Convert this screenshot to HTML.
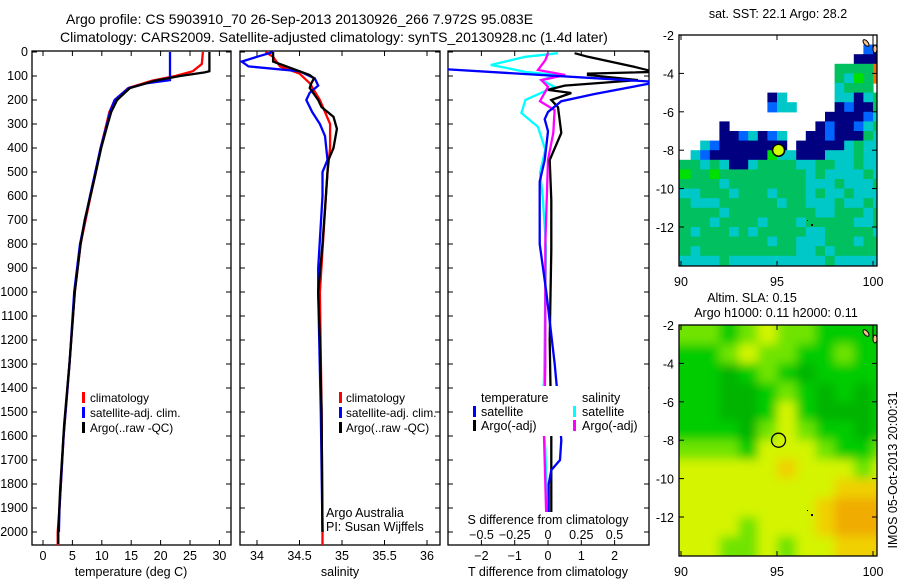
<!DOCTYPE html>
<html><head><meta charset="utf-8"><style>
html,body{margin:0;padding:0;background:#fff;width:900px;height:580px;overflow:hidden}
svg text{font-family:"Liberation Sans",sans-serif;font-size:12.5px;fill:#000}
svg text.leg{font-size:11.8px}
</style></head><body>
<svg id="s" width="900" height="580" viewBox="0 0 900 580" xmlns="http://www.w3.org/2000/svg">
<defs>
<clipPath id="c1"><rect x="32" y="51" width="199" height="494"/></clipPath>
<clipPath id="c2"><rect x="240" y="51" width="200" height="494"/></clipPath>
<clipPath id="c3"><rect x="448" y="51" width="201" height="494"/></clipPath>
<clipPath id="cm1"><rect x="679" y="35" width="198" height="231"/></clipPath>
<clipPath id="cm2"><rect x="679" y="325" width="198" height="231"/></clipPath>
<filter id="blur" x="-10%" y="-10%" width="120%" height="120%"><feGaussianBlur stdDeviation="5"/></filter>
</defs>
<text x="66" y="24" style="font-size:14px">Argo profile: CS 5903910_70 26-Sep-2013 20130926_266 7.972S 95.083E</text>
<text x="60" y="42" style="font-size:14px">Climatology: CARS2009. Satellite-adjusted climatology: synTS_20130928.nc (1.4d later)</text>
<g id="g1"></g>
<g id="g2"></g>
<g id="g3"></g>
<g id="m1"></g>
<g id="m2"></g>
<text transform="translate(897,470) rotate(-90)" text-anchor="middle">IMOS 05-Oct-2013 20:00:31</text>
</svg>
<script>
// ---- data ----
const depthTicks=[0,100,200,300,400,500,600,700,800,900,1000,1100,1200,1300,1400,1500,1600,1700,1800,1900,2000];
const tempTicks=[0,5,10,15,20,25,30];
const salTicks=[34,34.5,35,35.5,36];
const tdiffTicks=[-2,-1,0,1,2];
const sdiffTicks=[-0.5,-0.25,0,0.25,0.5];
const argoTD=[0,80,85,100,120,150,200,250,300,400,500,575,700,800,1000,1270,1550,1825,2000,2050];
const argoT=[28.3,28.3,27.5,23.3,19,14.8,12.6,11.6,11,9.9,9,8.3,7.1,6.4,5.4,4.6,3.6,2.9,2.6,2.6];
const climTD=[0,50,80,100,120,150,200,250,300,400,500,600,800,1000,1300,1600,1900,2000,2060];
const climT=[27.2,27,25.5,22.5,18.5,14.5,12.2,11.3,10.8,9.8,9,8.1,6.4,5.4,4.5,3.5,2.8,2.5,2.5];
const satTD=[0,117,130,150,200,250,300,400,500,600,800,1000,1300,1600,1900,2000];
const satT=[21.6,21.6,17.7,14.6,12.2,11.4,10.9,9.8,8.9,8.0,6.3,5.3,4.5,3.5,2.8,2.7];
const argoSD=[0,40,54,96,110,130,150,200,230,270,320,400,450,500,600,800,1000,1200,1500,2000];
const argoS=[34.19,34.19,34.3,34.62,34.67,34.64,34.62,34.72,34.76,34.9,34.94,34.9,34.84,34.83,34.81,34.77,34.72,34.74,34.76,34.77];
const climSD=[0,20,60,90,130,200,300,400,500,600,1000,1500,2000,2060];
const climS=[34.1,34.19,34.27,34.5,34.62,34.74,34.86,34.86,34.83,34.81,34.74,34.76,34.77,34.77];
const satSD=[0,20,40,60,80,110,140,170,200,250,300,350,450,500,600,900,1000,1500,2000];
const satS=[34.19,34.0,33.82,33.9,34.5,34.68,34.72,34.62,34.58,34.65,34.74,34.8,34.83,34.77,34.77,34.72,34.72,34.75,34.77];
const dTD=[5,20,62,83,90,96,117,140,158,171,200,230,337,450,617,825,1200,1600,2000];
const dT=[0.8,1.2,2.6,3.2,1.2,1.2,2.7,0.5,0,0.7,0.1,0.3,0.4,0.05,0.1,0.1,0.05,0.1,0.1];
const sTD=[70,125,175,205,250,280,330,450,540,800,1000,1300,1450,1617,1700,1742,1800,2000];
const sT=[-3.3,3.3,1.4,0.4,0,-0.1,0,-0.1,-0.25,-0.25,-0.05,0.2,0.3,0.4,0.36,0.1,0.02,0.02];
const cyanSD=[5,20,54,68,83,96,117,145,200,254,312,408,504,600,812,1367,1500,1650,2000];
const cyanS=[0.075,-0.17,-0.43,-0.3,-0.17,0.07,-0.05,0.05,-0.17,-0.2,-0.075,-0.02,-0.06,-0.04,-0.015,-0.03,-0.045,-0.02,0];
const magSD=[5,34,75,96,117,145,205,242,337,450,800,1300,1600,2000];
const magS=[0,-0.02,-0.075,0.13,-0.05,0,-0.06,0.05,0.04,0,-0.02,-0.02,-0.03,-0.01];
const mapLonTicks=[90,95,100];
const mapLatTicks=[-2,-4,-6,-8,-10,-12];
const sstRows=[
"WWWWWWWWWWWWWWWWWWWWW",
"WWWWWWWWWWWWWWWWWWWBN",
"WWWWWWWWWWWWWWWWWWNNN",
"WWWWWWWWWWWWWWWWGGGGO",
"WWWWWWWWWWWWWWWWGCLGO",
"WWWWWWWWWWWWWWWWCGGGW",
"WWWWWWWWWNCWWWWWCCNCG",
"WWWWWWWWWBCCWWWWNBNNG",
"WWWWWWWWWWWWWWWNNNNBC",
"WWWWNWWWWWWWWWNBNNBCG",
"WWWWNNBCNBCWWNNBNNNGC",
"WWCBNNNNNNNWNNNNNCGCC",
"WCBNNNNNNLCCNNNCCCGCC",
"GGCGCNNCGGGGCCGGCCGCC",
"LGGLGGGGGGGGGCGCCCCGC",
"GGGGCGGGGGGGGCCCGCCCG",
"CCGGGCGGGCGGGCGCCGCCC",
"GCCCGGGGGGCGGCCCGCCGC",
"GGGGCGGGGGGGGGCCGGGCG",
"GGGCGGGGCGGGCGGGGGCCG",
"GCGGGCGCGGGGGCCGGGGGC",
"GGGGGGGGGCGGCCCGGGCGG",
"GCGGGGGGGGGGCCGCGGGGG",
"CCCCGCCCCCCCCCCGCCCCC"];
const slaRows=[
"LLGLYLLGGGG",
"GGLYLLGGLGG",
"GGDGLGDGGGG",
"GGDDGLGDGDG",
"GGDDGYGDDDG",
"GGGDLYLGGDG",
"LLLGYYYLGGL",
"YYYYYOYYYLY",
"YYYYYYYYOOO",
"YYYYYYYORRR",
"YYYLYYYORRR",
"YYLLYLYYOOO"];
// ---- helpers ----
const NS='http://www.w3.org/2000/svg';
function el(p,tag,at){const e=document.createElementNS(NS,tag);for(const k in at)e.setAttribute(k,at[k]);p.appendChild(e);return e;}
const yD=d=>52+d*0.24;
const x1=t=>43+t*5.88, x2=s=>257+(s-34)*85, x3T=t=>548+t*33.3, x3S=s=>548+s*133;
function line(g,ds,vs,fx,col,clip,name){
  const pts=ds.map((d,i)=>fx(vs[i]).toFixed(1)+','+yD(d).toFixed(1)).join(' ');
  const p=el(g,'polyline',{points:pts,fill:'none',stroke:col,'stroke-width':2.3,'clip-path':'url(#'+clip+')'});
  
  
}
function frame(g,x0,x1_,name){
  const r=el(g,'rect',{x:x0,y:51,width:x1_-x0,height:494,fill:'none',stroke:'#000','stroke-width':1.3});
  
  
  depthTicks.forEach(d=>{el(g,'line',{x1:x0,x2:x0+5,y1:yD(d),y2:yD(d),stroke:'#000'});el(g,'line',{x1:x1_,x2:x1_-5,y1:yD(d),y2:yD(d),stroke:'#000'});});
}
function xticks(g,vals,fx,y,name){
  vals.forEach(v=>{const x=fx(v);el(g,'line',{x1:x,x2:x,y1:545,y2:540,stroke:'#000'});el(g,'line',{x1:x,x2:x,y1:51,y2:56,stroke:'#000'});
    const t=el(g,'text',{x:x,y:y,'text-anchor':'middle'});t.textContent=String(v).replace('-','\u2212');
    
    });
}
function txt(g,x,y,s,name,anchor){const t=el(g,'text',{x:x,y:y});if(anchor)t.setAttribute('text-anchor',anchor);t.textContent=s;
  
  return t;}
function legbar(g,x,y,col){el(g,'rect',{x:x,y:y-10,width:3,height:11,fill:col});}
// ---- panel 1 ----
const g1=document.getElementById('g1');
frame(g1,32,231,'temperature-plot-frame');
depthTicks.forEach(d=>txt(g1,28,yD(d)+4,String(d),'depth-tick-label','end'));
xticks(g1,tempTicks,x1,560,'temperature-tick-label');
txt(g1,131,576,'temperature (deg C)','temperature-axis-title','middle');
line(g1,climTD,climT,x1,'#ff0000','c1','climatology-temp-line');
line(g1,satTD,satT,x1,'#0000ff','c1','satellite-temp-line');
line(g1,argoTD,argoT,x1,'#000000','c1','argo-temp-line');
[['#ff0000','climatology'],['#0000ff','satellite-adj. clim.'],['#000','Argo(..raw -QC)']].forEach((l,i)=>{legbar(g1,82,402+i*15,l[0]);txt(g1,90,402+i*15,l[1],'legend-entry').setAttribute('class','leg');});
// ---- panel 2 ----
const g2=document.getElementById('g2');
frame(g2,240,440,'salinity-plot-frame');
xticks(g2,salTicks,x2,560,'salinity-tick-label');
txt(g2,340,576,'salinity','salinity-axis-title','middle');
line(g2,climSD,climS,x2,'#ff0000','c2','climatology-salinity-line');
line(g2,satSD,satS,x2,'#0000ff','c2','satellite-salinity-line');
line(g2,argoSD,argoS,x2,'#000000','c2','argo-salinity-line');
[['#ff0000','climatology'],['#0000ff','satellite-adj. clim.'],['#000','Argo(..raw -QC)']].forEach((l,i)=>{legbar(g2,339,402+i*15,l[0]);txt(g2,346,402+i*15,l[1],'legend-entry').setAttribute('class','leg');});
txt(g2,326,517,'Argo Australia','argo-australia-note');
txt(g2,326,531,'PI: Susan Wijffels','pi-note');
// ---- panel 3 ----
const g3=document.getElementById('g3');
frame(g3,448,649,'difference-plot-frame');
xticks(g3,tdiffTicks,x3T,560,'tdiff-tick-label');
txt(g3,548,576,'T difference from climatology','tdiff-axis-title','middle');
line(g3,cyanSD,cyanS,x3S,'#00ffff','c3','satellite-salinity-diff-line');
line(g3,magSD,magS,x3S,'#ff00ff','c3','argo-salinity-diff-line');
line(g3,dTD,dT,x3T,'#000000','c3','argo-temp-diff-line');
line(g3,sTD,sT,x3T,'#0000ff','c3','satellite-temp-diff-line');
el(g3,'rect',{x:468,y:386,width:180,height:50,fill:'#fff'});
txt(g3,481,402,'temperature','legend-temperature-heading');
txt(g3,582,402,'salinity','legend-salinity-heading');
[['#0000ff','satellite'],['#000','Argo(-adj)']].forEach((l,i)=>{legbar(g3,473,416+i*14,l[0]);txt(g3,481,416+i*14,l[1],'legend-entry');});
[['#00ffff','satellite'],['#ff00ff','Argo(-adj)']].forEach((l,i)=>{legbar(g3,573,416+i*14,l[0]);txt(g3,582,416+i*14,l[1],'legend-entry');});
el(g3,'rect',{x:466,y:512,width:166,height:28,fill:'#fff'});
txt(g3,548,524,'S difference from climatology','sdiff-axis-title','middle');
sdiffTicks.forEach(v=>txt(g3,x3S(v),539,String(v).replace('-','\u2212'),'sdiff-tick-label','middle'));
// ---- maps ----
const lonX=l=>681+(l-90)*19.2;
function map(g,top,rows,pal,cw,ch,name,clip,blur){
  const cg=el(g,'g',{'clip-path':'url(#'+clip+')'});
  const inner=el(cg,'g',blur?{filter:'url(#blur)'}:{});
  rows.forEach((r,ri)=>{[...r].forEach((c,ci)=>{if(c==='W')return;
    let x=lonX(90+ci*cw);let w=cw*19.2+0.6;
    if(ci===0){x-=(blur?12:2);w+=(blur?12:2);}
    let y=top+ri*ch*19.2;let h=ch*19.2+0.6;
    if(blur&&ri===0){y-=12;h+=12;}
    if(ri===rows.length-1){h+=(blur?14:2);}
    if(ci===r.length-1&&blur){w+=12;}
    el(inner,'rect',{x:x.toFixed(1),y:y.toFixed(1),width:w.toFixed(1),height:h.toFixed(1),fill:pal[c]});});});
  const f=el(g,'rect',{x:679,y:top,width:198,height:231,fill:'none',stroke:'#000','stroke-width':1.3});
  
  
  mapLatTicks.forEach(v=>{const y=top+(-2-v)*19.2;el(g,'line',{x1:679,x2:684,y1:y,y2:y,stroke:'#000'});el(g,'line',{x1:877,x2:872,y1:y,y2:y,stroke:'#000'});
    txt(g,674,y+5,String(v),'latitude-tick-label','end');});
  mapLonTicks.forEach(v=>{const x=lonX(v);el(g,'line',{x1:x,x2:x,y1:top,y2:top+5,stroke:'#000'});el(g,'line',{x1:x,x2:x,y1:top+231,y2:top+226,stroke:'#000'});
    txt(g,x,top+251,String(v),'longitude-tick-label','middle');});
  el(g,'line',{x1:873,x2:873,y1:top,y2:top+16,stroke:'#000'});
  el(g,'ellipse',{cx:866,cy:top+8,rx:2,ry:4,fill:'#f4c090',stroke:'#000',transform:'rotate(-40 866 '+(top+8)+')'});
  el(g,'ellipse',{cx:875,cy:top+14,rx:2,ry:4,fill:'#f4c090',stroke:'#000'});
  el(g,'rect',{x:811,y:top+189,width:2,height:2,fill:'#000'});
  el(g,'rect',{x:807,y:top+185,width:1,height:1,fill:'#000'});
}
const m1=document.getElementById('m1');
map(m1,35,sstRows,{N:'#000080',B:'#0064ff',C:'#00c8c8',G:'#00c060',L:'#00e000',O:'#f07000'},0.5,0.5,'sst-map','cm1',false);
const c1=el(m1,'circle',{cx:lonX(95.08),cy:35+6*19.2,r:6,fill:'#ccff00',stroke:'#000','stroke-width':1.5});


txt(m1,778,18,'sat. SST: 22.1 Argo: 28.2','sst-map-title','middle');
const m2=document.getElementById('m2');
map(m2,325,slaRows,{D:'#00b400',G:'#00cc00',L:'#70e400',Y:'#d4f400',O:'#f0d000',R:'#f0ac00'},1,1,'sla-map','cm2',true);
const c2=el(m2,'circle',{cx:lonX(95.08),cy:325+6*19.2,r:7,fill:'none',stroke:'#000','stroke-width':1.3});


txt(m2,752,302,'Altim. SLA: 0.15','sla-map-title','middle');
txt(m2,776,317,'Argo h1000: 0.11 h2000: 0.11','sla-map-subtitle','middle');
</script>
</body></html>
